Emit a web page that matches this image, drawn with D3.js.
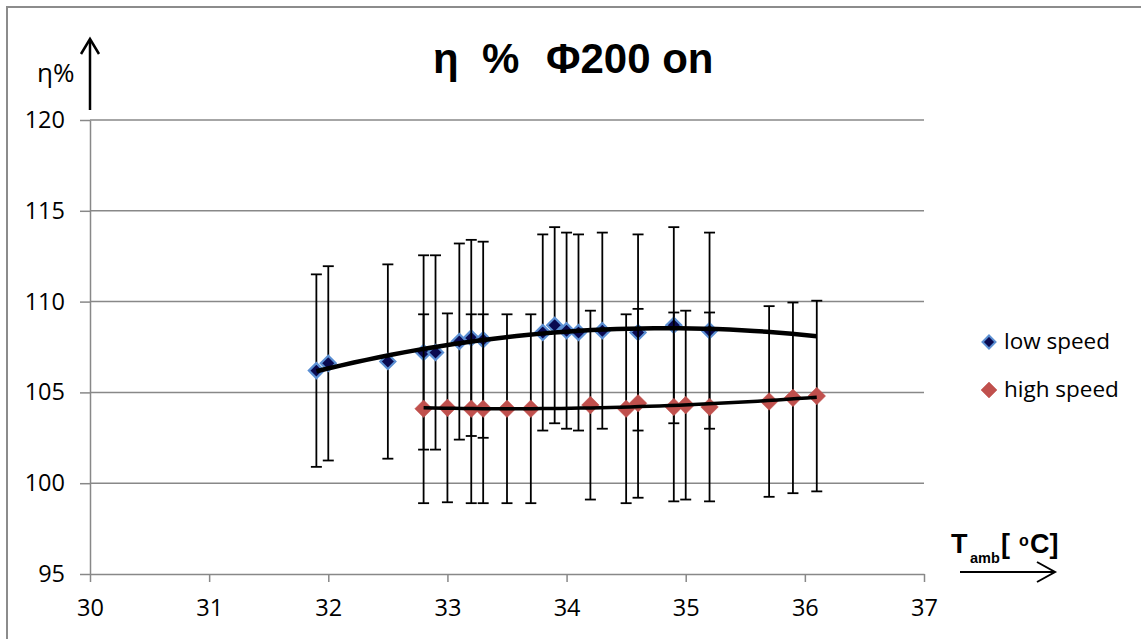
<!DOCTYPE html>
<html>
<head>
<meta charset="utf-8">
<script src="https://cdn.jsdelivr.net/npm/d3@7"></script>
<style>
  html, body { margin: 0; padding: 0; background: #fff; }
  svg { display: block; }
  .tick text { font-family: "Open Sans", sans-serif; font-size: 23.5px; fill: #000; }
  .tick line, .domain { stroke: #888; stroke-width: 1.5; }
</style>
</head>
<body>
<svg id="chart" width="1141" height="639"></svg>
<script>
// tick values
var xTicks = [ 30, 31, 32, 33, 34, 35, 36, 37 ];
var yTicks = [ 95, 100, 105, 110, 115, 120 ];

// low speed series: ambient temperature, efficiency, error bar half height
var lowT = [ 31.9, 32.0, 32.5, 32.8, 32.9, 33.1, 33.2, 33.3, 33.8, 33.9, 34.0, 34.1, 34.3, 34.6, 34.9, 35.2 ];
var lowEta = [ 106.2, 106.6, 106.7, 107.2, 107.2, 107.8, 108.0, 107.9, 108.3, 108.7, 108.4, 108.3, 108.4, 108.3, 108.7, 108.4 ];
var lowErr = [ 5.3, 5.35, 5.35, 5.35, 5.35, 5.4, 5.4, 5.4, 5.4, 5.4, 5.4, 5.4, 5.4, 5.4, 5.4, 5.4 ];

// high speed series
var highT = [ 32.8, 33.0, 33.2, 33.3, 33.5, 33.7, 34.2, 34.5, 34.6, 34.9, 35.0, 35.2, 35.7, 35.9, 36.1 ];
var highEta = [ 104.1, 104.15, 104.1, 104.1, 104.1, 104.1, 104.3, 104.1, 104.4, 104.2, 104.3, 104.2, 104.5, 104.7, 104.8 ];
var highErr = [ 5.2, 5.2, 5.2, 5.2, 5.2, 5.2, 5.2, 5.2, 5.2, 5.2, 5.2, 5.2, 5.25, 5.25, 5.25 ];

// trendline x range for each series
var lowTrendRange = [ 31.9, 36.1 ];
var highTrendRange = [ 32.8, 36.1 ];

var seriesNames = [ 'low speed', 'high speed' ];

var plot = { left: 90, right: 924, top: 120, bottom: 574 };

var svg = d3.select( '#chart' );

// chart area border
svg.append( 'rect' )
	.attr( 'x', 7 ).attr( 'y', 7 )
	.attr( 'width', 1300 ).attr( 'height', 800 )
	.attr( 'fill', 'none' )
	.attr( 'stroke', '#8c8c8c' )
	.attr( 'stroke-width', 2 );

var x = d3.scaleLinear().domain( [ 30, 37 ] ).range( [ plot.left, plot.right ] );
var y = d3.scaleLinear().domain( [ 95, 120 ] ).range( [ plot.bottom, plot.top ] );

// horizontal gridlines
svg.append( 'g' ).selectAll( 'line' )
	.data( yTicks.filter( function ( d ) { return d !== 95; } ) )
	.enter().append( 'line' )
	.attr( 'x1', plot.left ).attr( 'x2', plot.right )
	.attr( 'y1', function ( d ) { return y( d ); } )
	.attr( 'y2', function ( d ) { return y( d ); } )
	.attr( 'stroke', '#888' )
	.attr( 'stroke-width', 1.5 );

svg.append( 'g' )
	.attr( 'transform', 'translate(' + plot.left + ',0)' )
	.call( d3.axisLeft( y ).tickValues( yTicks ).tickSize( 10 ).tickSizeOuter( 0 ).tickPadding( 15 ) );

svg.append( 'g' )
	.attr( 'transform', 'translate(0,' + plot.bottom + ')' )
	.call( d3.axisBottom( x ).tickValues( xTicks ).tickFormat( d3.format( 'd' ) ).tickSize( 8 ).tickSizeOuter( 0 ).tickPadding( 17 ) );

// quadratic least squares, same as a 2nd order polynomial trendline
function polyFit( xs, ys ) {
	var s = [ 0, 0, 0, 0, 0 ], t = [ 0, 0, 0 ];
	xs.forEach( function ( xv, i ) {
		for ( var k = 0; k < 5; k++ ) s[k] += Math.pow( xv, k );
		for ( var j = 0; j < 3; j++ ) t[j] += Math.pow( xv, j ) * ys[i];
	} );
	var m = [ [ s[0], s[1], s[2], t[0] ], [ s[1], s[2], s[3], t[1] ], [ s[2], s[3], s[4], t[2] ] ];
	for ( var c = 0; c < 3; c++ ) {
		for ( var r = c + 1; r < 3; r++ ) {
			var f = m[r][c] / m[c][c];
			for ( var q = c; q < 4; q++ ) m[r][q] -= f * m[c][q];
		}
	}
	var b = [ 0, 0, 0 ];
	for ( var r2 = 2; r2 >= 0; r2-- ) {
		var v = m[r2][3];
		for ( var q2 = r2 + 1; q2 < 3; q2++ ) v -= m[r2][q2] * b[q2];
		b[r2] = v / m[r2][r2];
	}
	return function ( xv ) { return b[0] + b[1] * xv + b[2] * xv * xv; };
}

function diamond( r ) {
	return 'M0,' + ( -r ) + 'L' + r + ',0L0,' + r + 'L' + ( -r ) + ',0Z';
}

function errorBars( xs, ys, errs ) {
	var g = svg.append( 'g' );
	xs.forEach( function ( xv, i ) {
		var px = x( xv );
		var top = y( ys[i] + errs[i] ), bot = y( ys[i] - errs[i] );
		g.append( 'line' ).attr( 'x1', px ).attr( 'x2', px ).attr( 'y1', top ).attr( 'y2', bot );
		g.append( 'line' ).attr( 'x1', px - 5.5 ).attr( 'x2', px + 5.5 ).attr( 'y1', top ).attr( 'y2', top );
		g.append( 'line' ).attr( 'x1', px - 5.5 ).attr( 'x2', px + 5.5 ).attr( 'y1', bot ).attr( 'y2', bot );
	} );
	g.selectAll( 'line' ).attr( 'stroke', '#000' ).attr( 'stroke-width', 1.8 );
}

function markers( xs, ys, r, fill, stroke, sw ) {
	svg.append( 'g' ).selectAll( 'path' )
		.data( xs )
		.enter().append( 'path' )
		.attr( 'd', diamond( r ) )
		.attr( 'transform', function ( d, i ) { return 'translate(' + x( d ) + ',' + y( ys[i] ) + ')'; } )
		.attr( 'fill', fill )
		.attr( 'stroke', stroke )
		.attr( 'stroke-width', sw );
}

errorBars( lowT, lowEta, lowErr );
markers( lowT, lowEta, 7.5, '#0a0a50', '#5b8fd3', 2.2 );
errorBars( highT, highEta, highErr );
markers( highT, highEta, 8.8, '#c0504d', '#c0504d', 0.5 );

// trendlines
function trend( xs, ys, range, width ) {
	var fit = polyFit( xs, ys );
	var pts = d3.range( 0, 41 ).map( function ( i ) {
		var xv = range[0] + ( range[1] - range[0] ) * i / 40;
		return [ x( xv ), y( fit( xv ) ) ];
	} );
	svg.append( 'path' )
		.attr( 'd', d3.line()( pts ) )
		.attr( 'fill', 'none' )
		.attr( 'stroke', '#000' )
		.attr( 'stroke-width', width )
		.attr( 'stroke-linecap', 'butt' );
}
trend( lowT, lowEta, lowTrendRange, 4.5 );
trend( highT, highEta, highTrendRange, 3.5 );

// title
var title = svg.append( 'text' )
	.attr( 'y', 73 )
	.style( 'font-family', '"Liberation Sans", Arial, sans-serif' )
	.style( 'font-weight', 'bold' )
	.style( 'font-size', '42px' );
title.append( 'tspan' ).attr( 'x', 433 ).text( 'η' );
title.append( 'tspan' ).attr( 'x', 482 ).text( '%' );
title.append( 'tspan' ).attr( 'x', 546 ).text( 'Φ200 on' );

// y axis label with arrow
svg.append( 'text' )
	.attr( 'x', 37 ).attr( 'y', 82 )
	.style( 'font-family', '"Open Sans", sans-serif' )
	.style( 'font-size', '26px' )
	.text( 'η%' );
svg.append( 'line' ).attr( 'x1', 90 ).attr( 'x2', 90 ).attr( 'y1', 110 ).attr( 'y2', 40 )
	.attr( 'stroke', '#000' ).attr( 'stroke-width', 2.5 );
svg.append( 'polyline' ).attr( 'points', '81,54 90,39 99,54' )
	.attr( 'fill', 'none' ).attr( 'stroke', '#000' ).attr( 'stroke-width', 2.5 );

// x axis label with arrow
var xl = svg.append( 'g' )
	.style( 'font-family', '"Liberation Sans", Arial, sans-serif' )
	.style( 'font-weight', 'bold' );
xl.append( 'text' ).attr( 'x', 951 ).attr( 'y', 553 ).style( 'font-size', '27px' ).text( 'T' );
xl.append( 'text' ).attr( 'x', 970 ).attr( 'y', 563 ).style( 'font-size', '14.5px' ).text( 'amb' );
xl.append( 'text' ).attr( 'x', 1001 ).attr( 'y', 553 ).style( 'font-size', '27px' ).text( '[' );
xl.append( 'text' ).attr( 'x', 1019 ).attr( 'y', 546 ).style( 'font-size', '16px' ).text( 'o' );
xl.append( 'text' ).attr( 'x', 1030 ).attr( 'y', 553 ).style( 'font-size', '27px' ).text( 'C]' );
svg.append( 'line' ).attr( 'x1', 960 ).attr( 'x2', 1055 ).attr( 'y1', 572 ).attr( 'y2', 572 )
	.attr( 'stroke', '#000' ).attr( 'stroke-width', 2 );
svg.append( 'polyline' ).attr( 'points', '1037,562 1055,572 1037,582' )
	.attr( 'fill', 'none' ).attr( 'stroke', '#000' ).attr( 'stroke-width', 2 );

// legend
var legend = svg.append( 'g' );
seriesNames.forEach( function ( name, i ) {
	var ly = 342 + i * 48;
	legend.append( 'path' )
		.attr( 'd', diamond( i === 0 ? 6.5 : 8 ) )
		.attr( 'transform', 'translate(989,' + ly + ')' )
		.attr( 'fill', i === 0 ? '#0a0a50' : '#c0504d' )
		.attr( 'stroke', i === 0 ? '#5b8fd3' : '#c0504d' )
		.attr( 'stroke-width', i === 0 ? 2 : 0.5 );
	legend.append( 'text' )
		.attr( 'x', 1004 ).attr( 'y', ly + 7 )
		.style( 'font-family', '"Open Sans", sans-serif' )
		.style( 'font-size', '22.5px' )
		.text( name );
} );
</script>
</body>
</html>
